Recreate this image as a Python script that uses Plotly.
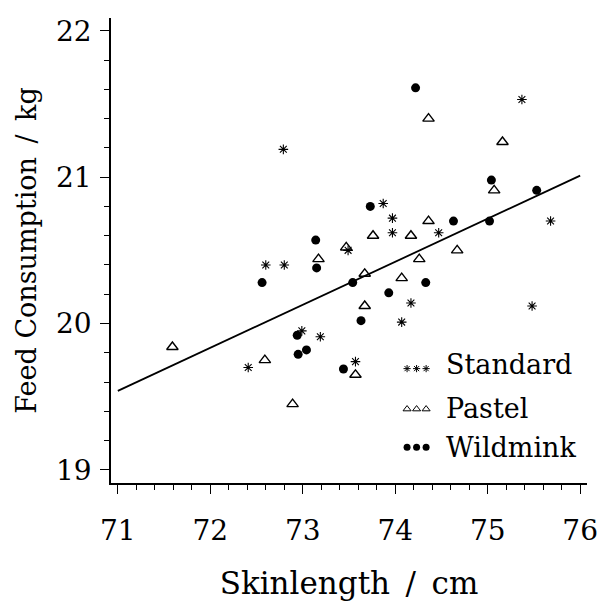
import plotly.graph_objects as go

# Standard (stars)
std_x = [75.37, 72.79, 73.87, 73.97, 75.68, 73.97, 74.47, 73.49, 72.60, 72.80,
         74.17, 75.48, 74.07, 72.99, 73.19, 72.41, 73.57]
std_y = [21.53, 21.19, 20.82, 20.72, 20.70, 20.62, 20.62, 20.50, 20.40, 20.40,
         20.14, 20.12, 20.01, 19.95, 19.91, 19.70, 19.74]
# Pastel (open triangles)
pas_x = [74.36, 75.16, 75.07, 74.36, 73.76, 74.17, 73.47, 74.67, 73.17, 74.26,
         73.67, 74.07, 73.67, 71.59, 72.59, 73.57, 72.89]
pas_y = [21.40, 21.24, 20.91, 20.70, 20.60, 20.60, 20.52, 20.50, 20.44, 20.44,
         20.34, 20.31, 20.12, 19.84, 19.75, 19.65, 19.45]
# Wildmink (filled circles)
wil_x = [74.22, 75.04, 75.53, 73.73, 74.63, 75.02, 73.14, 73.15, 72.56, 73.54,
         74.33, 73.93, 73.63, 72.94, 72.95, 73.04, 73.44]
wil_y = [21.61, 20.98, 20.91, 20.80, 20.70, 20.70, 20.57, 20.38, 20.28, 20.28,
         20.28, 20.21, 20.02, 19.92, 19.79, 19.82, 19.69]
# regression line end points
fit_x = [71.0, 76.0]
fit_y = [19.54, 21.01]

x_ticks = [71, 72, 73, 74, 75, 76]
y_ticks = [19, 20, 21, 22]
legend_names = ["Standard", "Pastel", "Wildmink"]

FONT = "DejaVu Serif"
fig = go.Figure()
fig.add_trace(go.Scatter(x=fit_x, y=fit_y, mode="lines",
                         line=dict(color="black", width=1.8), showlegend=False))

styles = [
    dict(symbol="asterisk-open", size=8, color="black", line=dict(color="black", width=1.1)),
    dict(symbol="triangle-up-open", size=10, color="black", line=dict(color="black", width=1.4)),
    dict(symbol="circle", size=9, color="black", line=dict(width=0)),
]
key_styles = [
    dict(symbol="asterisk-open", size=6, color="black", line=dict(color="black", width=1)),
    dict(symbol="triangle-up-open", size=7, color="black", line=dict(color="black", width=1)),
    dict(symbol="circle", size=7, color="black", line=dict(width=0)),
]
for xs, ys, name, st in zip([std_x, pas_x, wil_x], [std_y, pas_y, wil_y], legend_names, styles):
    fig.add_trace(go.Scatter(x=xs, y=ys, mode="markers", name=name,
                             marker=st, showlegend=False))

# hand-drawn legend: three key marks + label per group (paper-fraction overlay axes)
key_cols = [0.622, 0.642, 0.662]
leg_y = [0.254, 0.161, 0.077]
key_dy = [-0.008, -0.002, 0.0]
for name, ks, yy, dy in zip(legend_names, key_styles, leg_y, key_dy):
    fig.add_trace(go.Scatter(x=key_cols, y=[yy + dy] * 3, xaxis="x2", yaxis="y2",
                             mode="markers", marker=ks, showlegend=False,
                             hoverinfo="skip"))
    fig.add_annotation(x=0.70, y=yy, xref="paper", yref="paper", text=name,
                       showarrow=False, xanchor="left", yanchor="middle",
                       font=dict(family=FONT, size=27, color="black"))

fig.update_layout(
    width=608, height=608,
    margin=dict(l=111, r=10, t=18, b=125),
    paper_bgcolor="white", plot_bgcolor="white",
    font=dict(family=FONT, color="black"),
    xaxis=dict(range=[70.926, 76.074], tickvals=x_ticks, showgrid=False, zeroline=False,
               showline=True, linecolor="black", linewidth=1.5,
               ticks="outside", ticklen=9, tickwidth=1.3, tickcolor="black",
               ticklabelstandoff=13, ticklabeloverflow="allow",
               tickfont=dict(family=FONT, size=28, color="black"),
               minor=dict(dtick=0.2, tick0=71, ticks="outside", ticklen=5, tickwidth=1,
                          tickcolor="black", showgrid=False),
               title=dict(text="Skinlength\u2002/\u2002cm", standoff=26,
                          font=dict(family=FONT, size=31, color="black"))),
    yaxis=dict(range=[18.911, 22.087], tickvals=y_ticks, showgrid=False, zeroline=False,
               showline=True, linecolor="black", linewidth=1.5,
               ticks="outside", ticklen=9, tickwidth=1.3, tickcolor="black",
               ticklabelstandoff=3,
               tickfont=dict(family=FONT, size=28, color="black"),
               minor=dict(dtick=0.2, tick0=19, ticks="outside", ticklen=5, tickwidth=1,
                          tickcolor="black", showgrid=False),
               title=dict(text="Feed Consumption\u2002/\u2002kg", standoff=12,
                          font=dict(family=FONT, size=27, color="black"))),
    xaxis2=dict(overlaying="x", range=[0, 1], visible=False, fixedrange=True),
    yaxis2=dict(overlaying="y", range=[0, 1], visible=False, fixedrange=True),
)
fig.write_html("out.html")
